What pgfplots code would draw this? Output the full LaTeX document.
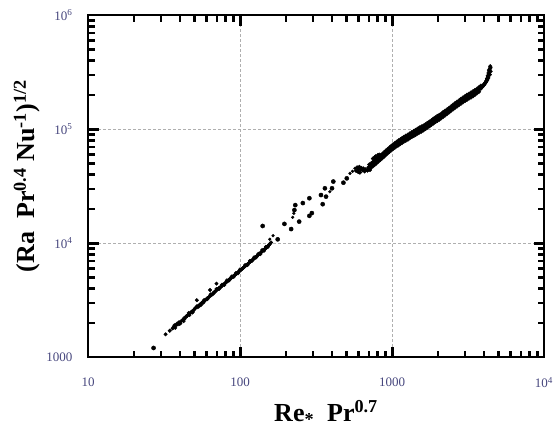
\documentclass[border=0pt]{standalone}
\usepackage{fontspec}
\setmainfont{Liberation Serif}
\usepackage{pgfplots}
\pgfplotsset{compat=1.18}
\definecolor{ticklab}{RGB}{70,70,125}
\definecolor{gridc}{RGB}{175,175,175}

\begin{document}
\begin{tikzpicture}
\begin{axis}[
  at={(88pt,79pt)}, anchor=south west,
  scale only axis, width=456pt, height=342pt,
  xmode=log, ymode=log, clip=false,
  xmin=10, xmax=10000, ymin=1000, ymax=1000000,
  xtick={10,100,1000,10000}, xticklabels={10,100,1000,10\textsuperscript{4}},
  ytick={1000,10000,100000,1000000}, yticklabels={1000,10\textsuperscript{4},10\textsuperscript{5},10\textsuperscript{6}},
  minor xtick={20,30,40,50,60,70,80,90,200,300,400,500,600,700,800,900,2000,3000,4000,5000,6000,7000,8000,9000},
  minor ytick={2000,3000,4000,5000,6000,7000,8000,9000,20000,30000,40000,50000,60000,70000,80000,90000,200000,300000,400000,500000,600000,700000,800000,900000},
  xtick pos=both, ytick pos=both, xtick align=inside, ytick align=inside,
  major tick length=10pt, minor tick length=6pt,
  major tick style={black, line width=1.5pt},
  minor tick style={black, line width=1.4pt},
  axis line style={black, line width=1.5pt},
  xmajorgrids, ymajorgrids,
  major grid style={gridc, densely dashed, line width=0.6pt},
  xticklabel style={font=\fontsize{13}{15}\selectfont, text=ticklab, yshift=-17pt},
  yticklabel style={font=\fontsize{13}{15}\selectfont, text=ticklab, xshift=-12pt},
  xlabel={Re\textsubscript{*}\ \ Pr\textsuperscript{0.7}},
  ylabel={(Ra\ \ Pr\textsuperscript{0.4} Nu\textsuperscript{-1})\textsuperscript{1/2}},
  xlabel style={at={(axis description cs:0.522,-0.164)}, anchor=center, font=\fontsize{26}{29}\selectfont\bfseries},
  ylabel style={at={(axis description cs:-0.1338,0.529)}, anchor=center, font=\fontsize{26}{29}\selectfont\bfseries},
]
% tick marks as thin filled bars (inside the frame, all four sides)
\addplot[only marks, mark=square*, mark size=5pt, mark options={xscale=0.15, draw=none, fill=black}, forget plot] coordinates {
(100,1106) (1000,1106) (100,904200) (1000,904200)};
\addplot[only marks, mark=square*, mark size=3pt, mark options={xscale=0.24, draw=none, fill=black}, forget plot] coordinates {
(20,1062.5) (30,1062.5) (40,1062.5) (50,1062.5) (60,1062.5) (70,1062.5) (80,1062.5) (90,1062.5)
(200,1062.5) (300,1062.5) (400,1062.5) (500,1062.5) (600,1062.5) (700,1062.5) (800,1062.5) (900,1062.5)
(2000,1062.5) (3000,1062.5) (4000,1062.5) (5000,1062.5) (6000,1062.5) (7000,1062.5) (8000,1062.5) (9000,1062.5)
(20,941200) (30,941200) (40,941200) (50,941200) (60,941200) (70,941200) (80,941200) (90,941200)
(200,941200) (300,941200) (400,941200) (500,941200) (600,941200) (700,941200) (800,941200) (900,941200)
(2000,941200) (3000,941200) (4000,941200) (5000,941200) (6000,941200) (7000,941200) (8000,941200) (9000,941200)};
\addplot[only marks, mark=square*, mark size=5pt, mark options={yscale=0.15, draw=none, fill=black}, forget plot] coordinates {
(10.787,10000) (10.787,100000) (9270,10000) (9270,100000)};
\addplot[only marks, mark=square*, mark size=3pt, mark options={yscale=0.24, draw=none, fill=black}, forget plot] coordinates {
(10.465,2000) (10.465,3000) (10.465,4000) (10.465,5000) (10.465,6000) (10.465,7000) (10.465,8000) (10.465,9000)
(10.465,20000) (10.465,30000) (10.465,40000) (10.465,50000) (10.465,60000) (10.465,70000) (10.465,80000) (10.465,90000)
(10.465,200000) (10.465,300000) (10.465,400000) (10.465,500000) (10.465,600000) (10.465,700000) (10.465,800000) (10.465,900000)
(9556,2000) (9556,3000) (9556,4000) (9556,5000) (9556,6000) (9556,7000) (9556,8000) (9556,9000)
(9556,20000) (9556,30000) (9556,40000) (9556,50000) (9556,60000) (9556,70000) (9556,80000) (9556,90000)
(9556,200000) (9556,300000) (9556,400000) (9556,500000) (9556,600000) (9556,700000) (9556,800000) (9556,900000)};
% lower band
\addplot[only marks, mark=*, mark size=1.75pt, black] table {
x y
32.4 1580
34.5 1700
36 1780
36.5 1830
37 1850
37.5 1800
38 1900
38.5 1960
39 1930
39.5 2010
40 2010
40.5 1970
41 2060
42 2120
42.5 2060
43 2200
44 2230
44.5 2290
45 2300
46 2380
46.5 2330
47 2420
48 2500
48.5 2450
49 2550
50 2600
50.5 2660
51 2700
52 2720
52 3150
53 2800
53.5 2760
54 2850
55 2920
55.5 2870
56 2980
57 3050
57.5 3000
58 3080
59 3150
60 3200
61 3290
62 3320
63 3400
63.5 3870
64 3450
65 3500
66 3580
67 3670
68 3720
69 3760
70 3850
70 4400
71 3920
72 3960
73 4050
74 4080
75 4130
76 4200
77 4300
78 4330
79 4380
80 4460
81 4530
82 4580
83 4640
84 4700
85 4800
86 4850
87 4900
88 4950
89 5050
90 5100
91 5150
92 5200
93 5290
94 5330
95 5400
96 5450
97 5540
98 5600
99 5650
100 5720
101.5 5820
103 5920
104.5 6020
106 6120
107.5 6220
109 6320
110.5 6420
112 6520
113.5 6620
115 6720
116.5 6820
118 6920
119.5 7020
121 7120
122.5 7220
124 7320
125.5 7420
127 7520
128.5 7640
130 7750
131.5 7850
133 7950
134.5 8050
136 8150
137.5 8270
139 8380
140.5 8490
142 8600
143.5 8700
145 8800
146.5 8930
148 9050
149.5 9150
151 9250
152.5 9380
154 9500
155.5 9650
157 9800
160 10100
};
\addplot[only marks, mark=*, mark size=1.75pt, black] table {
x y
37 1900
40 1950
43 2140
46 2440
49 2480
52 2790
55 2850
58 3160
61 3220
64 3540
67 3600
70 3950
73 3960
76 4300
79 4280
82 4700
85 4700
88 5080
91 5050
94 5460
97 5420
100 5860
104 5960
108 6400
112 6400
116 6980
120 6980
124 7500
128 7480
132 8050
136 7980
140 8680
144 8560
148 9250
152 9200
};
% scattered mid points (large)
\addplot[only marks, mark=*, mark size=2.1pt, black] table {
x y
27 1200
141 14100
177 10770
196 14700
217 13250
228 19450
231 21500
245 15400
259 22400
286 24700
286 17300
297 18300
341 26350
350 21900
362 30200
368 25500
403 30200
411 34600
479 33800
504 36900
};
% small mid points
\addplot[only marks, mark=*, mark size=1.4pt, black] table {
x y
157 10800
165 11600
222 16800
226 18200
390 28200
529 40800
550 42500
570 45200
};
% cluster near 600
\addplot[only marks, mark=*, mark size=1.9pt, black] table {
x y
580 43000
590 46000
600 44500
600 42000
610 46500
615 41500
620 44000
630 45500
640 43500
650 45000
660 42500
670 44200
690 43500
716 43700
750 55000
770 56500
790 55000
811 59200
780 57500
830 59500
};
% upper band
\addplot[only marks, mark=*, mark size=1.9pt, black] table {
x y
700 46000
720 47300
740 48700
760 50000
780 51500
800 53000
825 55000
850 57000
875 59000
900 61000
925 63000
950 65000
975 67000
1000 69000
1030 71000
1060 73000
1090 75000
1120 76500
1150 78500
1180 80300
1215 82300
1250 84000
1290 86000
1330 88300
1370 90500
1410 92500
1450 94500
1495 97000
1540 99000
1585 101000
1635 103500
1685 106500
1735 109500
1790 112500
1845 116000
1900 119000
1960 122500
2020 125500
2080 128500
2140 132500
2200 136000
2270 140000
2340 144500
2410 149000
2480 153500
2560 158500
2640 163500
2720 168000
2800 173000
2890 178000
2980 183000
3070 188000
3160 192000
3260 197000
3360 201500
3460 206500
3570 213000
3680 219000
3790 226000
3900 233000
3990 241000
4080 250000
4160 261000
4230 272000
4290 286000
4340 302000
4380 320000
4410 338000
4430 355000
710 48800
731 50100
751 51600
771 53000
792 54600
812 56200
837 58300
863 60400
888 62500
914 64700
939 66800
964 68900
990 71000
1015 73100
1045 75300
1076 77400
1106 79500
1137 81100
1167 83200
1198 85100
1233 87200
1269 89000
1309 91200
1350 93600
1391 95900
1431 98100
1472 100200
1517 102800
1563 104900
1609 107100
1660 109700
1710 112900
1761 116100
1817 119300
1873 123000
1929 126100
1989 129900
2050 133000
2111 136200
2172 140500
2233 144200
2304 148400
2375 153200
2446 157900
2517 162700
2598 168000
2680 173300
2761 178100
2842 183400
2933 188700
3025 194000
3116 199300
3207 203500
3309 208800
3410 213600
3512 218900
3625 225800
3735 232100
3847 239600
3959 240000
4050 248200
4141 257500
4222 268800
4293 280200
690 43200
709 44500
729 45800
749 47000
768 48400
788 49800
813 51700
837 53600
862 55500
887 57300
911 59200
936 61100
960 63000
985 64900
1015 66700
1044 68600
1074 70500
1103 71900
1133 73800
1162 75500
1197 77400
1231 79000
1271 80800
1310 83000
1349 85100
1389 87000
1428 88800
1473 91200
1517 93100
1561 94900
1610 97300
1660 100100
1709 102900
1763 105800
1817 109000
1872 111900
1931 115200
1990 118000
2049 120800
2108 124600
2167 127800
2236 131600
2305 135800
2374 140100
2443 144300
2522 149000
2600 153700
2679 157900
2758 162600
2847 167300
2935 172000
3024 176700
3113 180500
3211 185200
3310 189400
3408 194100
3516 200200
3625 205900
3733 212400
3842 226000
3930 233800
4019 242500
4098 253200
4168 263800
4226 277400
4275 293000
4315 310400
4345 327900
4450 320000
4445 345000
4400 300000
};
\end{axis}
\pgfresetboundingbox
\path[use as bounding box] (0,0) rectangle (553pt,436pt);
\end{tikzpicture}
\end{document}
